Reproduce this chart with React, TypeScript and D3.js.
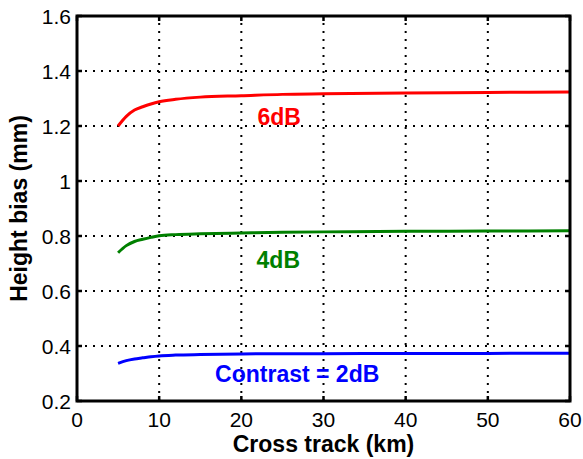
import React from "react";
import * as d3 from "d3";

// Cross-track distance (km) at which the height bias was evaluated
const crossTrack = [5, 6, 7, 8, 9, 10, 12, 15, 20, 25, 30, 40, 50, 60];

// Height bias (mm) for each contrast level
const bias6dB = [1.2, 1.235, 1.258, 1.27, 1.28, 1.288, 1.297, 1.305, 1.31, 1.315, 1.317, 1.32, 1.322, 1.324];
const bias4dB = [0.739, 0.765, 0.78, 0.788, 0.795, 0.801, 0.805, 0.808, 0.811, 0.814, 0.815, 0.817, 0.818, 0.819];
const bias2dB = [0.337, 0.347, 0.353, 0.357, 0.361, 0.364, 0.367, 0.369, 0.371, 0.372, 0.372, 0.373, 0.373, 0.374];

const xTicks = [0, 10, 20, 30, 40, 50, 60];
const yTicks = [0.2, 0.4, 0.6, 0.8, 1, 1.2, 1.4, 1.6];

const series = [
  { name: "6dB", values: bias6dB, color: "#ff0000", label: "6dB", lx: 24.6, ly: 1.204 },
  { name: "4dB", values: bias4dB, color: "#008000", label: "4dB", lx: 24.5, ly: 0.684 },
  { name: "2dB", values: bias2dB, color: "#0000ff", label: "Contrast = 2dB", lx: 26.8, ly: 0.27 },
];

const W = 583;
const H = 459;
const M = { left: 77, right: 13, top: 16, bottom: 58 };
const FONT = "'Liberation Sans', Arial, Helvetica, sans-serif";

export default function App() {
  const x = d3.scaleLinear().domain([0, 60]).range([M.left, W - M.right]);
  const y = d3.scaleLinear().domain([0.2, 1.6]).range([H - M.bottom, M.top]);
  const [x0, x1] = x.range();
  const [y0, y1] = y.range();

  const line = d3
    .line<number>()
    .x((_, i) => x(crossTrack[i]))
    .y((d) => y(d))
    .curve(d3.curveMonotoneX);

  const tickLen = 5;

  return (
    <svg
      width={W}
      height={H}
      style={{ position: "absolute", left: 0, top: 0, background: "#fff" }}
      fontFamily={FONT}
    >
      <rect x={0} y={0} width={W} height={H} fill="#fff" />
      {/* dotted grid */}
      <g stroke="#000" strokeWidth={2} strokeDasharray="2,6">
        {xTicks.slice(1, -1).map((t) => (
          <line key={"gx" + t} x1={x(t)} x2={x(t)} y1={y0} y2={y1} />
        ))}
        {yTicks.slice(1, -1).map((t) => (
          <line key={"gy" + t} x1={x0} x2={x1} y1={y(t)} y2={y(t)} />
        ))}
      </g>

      {/* data curves */}
      {series.map((s) => (
        <path key={s.name} d={line(s.values) ?? ""} fill="none" stroke={s.color} strokeWidth={3} />
      ))}

      {/* curve labels */}
      {series.map((s) => (
        <text
          key={"l" + s.name}
          x={x(s.lx)}
          y={y(s.ly)}
          fill={s.color}
          fontSize={23}
          fontWeight="bold"
          textAnchor="middle"
        >
          {s.label}
        </text>
      ))}

      {/* tick marks on all four sides */}
      <g stroke="#000" strokeWidth={2.5}>
        {xTicks.map((t) => (
          <g key={"tx" + t}>
            <line x1={x(t)} x2={x(t)} y1={y0} y2={y0 - tickLen} />
            <line x1={x(t)} x2={x(t)} y1={y1} y2={y1 + tickLen} />
          </g>
        ))}
        {yTicks.map((t) => (
          <g key={"ty" + t}>
            <line x1={x0} x2={x0 + tickLen} y1={y(t)} y2={y(t)} />
            <line x1={x1} x2={x1 - tickLen} y1={y(t)} y2={y(t)} />
          </g>
        ))}
      </g>

      {/* axes box */}
      <rect x={x0} y={y1} width={x1 - x0} height={y0 - y1} fill="none" stroke="#000" strokeWidth={3} />

      {/* tick labels */}
      <g fontSize={21} fill="#000">
        {xTicks.map((t) => (
          <text key={"xl" + t} x={x(t)} y={y0 + 25.5} textAnchor="middle">
            {d3.format("d")(t)}
          </text>
        ))}
        {yTicks.map((t) => (
          <text key={"yl" + t} x={x0 - 6} y={y(t)} dy="0.36em" textAnchor="end">
            {d3.format("~g")(t)}
          </text>
        ))}
      </g>

      {/* axis titles */}
      <text
        x={(x0 + x1) / 2}
        y={452}
        textAnchor="middle"
        fontSize={23}
        fontWeight="bold"
      >
        Cross track (km)
      </text>
      <text
        transform={`translate(27, ${(y0 + y1) / 2}) rotate(-90)`}
        textAnchor="middle"
        fontSize={23}
        fontWeight="bold"
      >
        Height bias (mm)
      </text>
    </svg>
  );
}
